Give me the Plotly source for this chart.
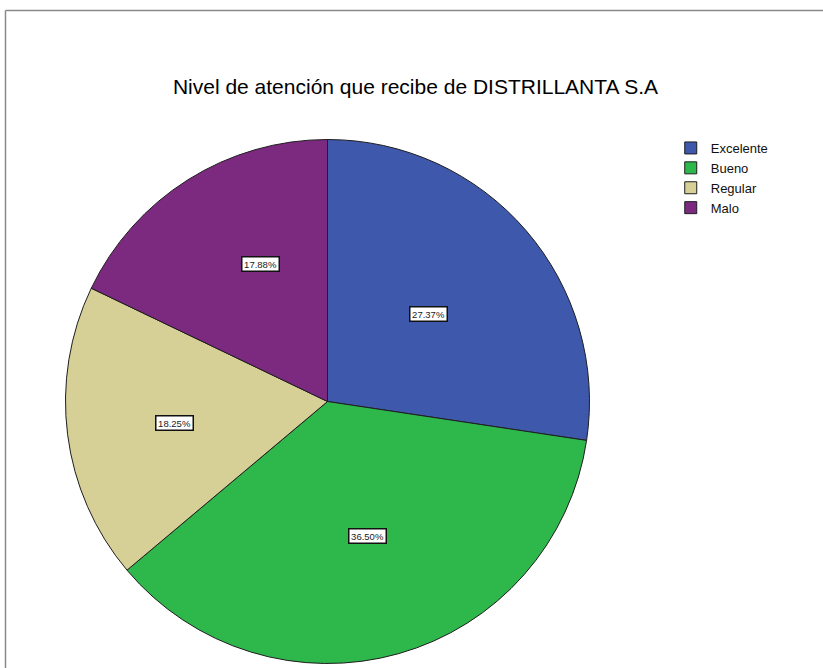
import math
import plotly.graph_objects as go

# ---- data ----
categories = ["Excelente", "Bueno", "Regular", "Malo"]
counts = [75, 100, 50, 49]
percent_labels = ["27.37%", "36.50%", "18.25%", "17.88%"]

# ---- style ----
colors = ["#3E58AC", "#2EB84B", "#D6CF96", "#7C2A7F"]
label_radius = [0.51, 0.565, 0.665, 0.62]   # fraction of pie radius for label placement

W, H = 823, 668
cx_px, cy_px, r_px = 327.5, 401.5, 262.0

dom_x = [(cx_px - r_px) / W, (cx_px + r_px) / W]
dom_y = [1 - (cy_px + r_px) / H, 1 - (cy_px - r_px) / H]

fig = go.Figure(go.Pie(
    labels=categories,
    values=counts,
    sort=False,
    direction="clockwise",
    rotation=0,
    textinfo="none",
    hoverinfo="label+percent",
    marker=dict(colors=colors, line=dict(color="#1e1e1e", width=1)),
    domain=dict(x=dom_x, y=dom_y),
))

# label boxes computed from slice midpoint angles
total = sum(counts)
cum = 0
for v, txt, rf in zip(counts, percent_labels, label_radius):
    mid = (cum + v / 2) / total * 2 * math.pi
    cum += v
    x_px = cx_px + rf * r_px * math.sin(mid)
    y_px = cy_px - rf * r_px * math.cos(mid)
    fig.add_annotation(
        x=x_px / W, y=1 - y_px / H, xref="paper", yref="paper",
        text=txt, showarrow=False, width=36, height=13,
        font=dict(family="Liberation Sans, Arial", size=9.5, color="#222"),
        bgcolor="white", bordercolor="#111", borderwidth=1.5, borderpad=0,
    )

# frame lines (top and left)
fig.add_shape(type="line", xref="paper", yref="paper",
              x0=5.5 / W, x1=1, y0=1 - 10.5 / H, y1=1 - 10.5 / H,
              line=dict(color="#8a8a8a", width=1.5))
fig.add_shape(type="line", xref="paper", yref="paper",
              x0=5.5 / W, x1=5.5 / W, y0=0, y1=1 - 10.5 / H,
              line=dict(color="#8a8a8a", width=1.5))

fig.update_layout(
    width=W, height=H,
    margin=dict(l=0, r=0, t=0, b=0),
    paper_bgcolor="white",
    plot_bgcolor="white",
    title=dict(text="Nivel de atención que recibe de DISTRILLANTA S.A",
               x=415.5 / W, xanchor="center", y=1 - 87 / H, yanchor="middle",
               font=dict(family="Liberation Sans, Arial", size=21, color="#000")),
    showlegend=True,
    legend=dict(x=0.815, y=1 - 133 / H, xanchor="left", yanchor="top",
                font=dict(family="Liberation Sans, Arial", size=13, color="#111"),
                itemwidth=30, tracegroupgap=0,
                bgcolor="rgba(0,0,0,0)"),
)

fig.write_html("out.html")
